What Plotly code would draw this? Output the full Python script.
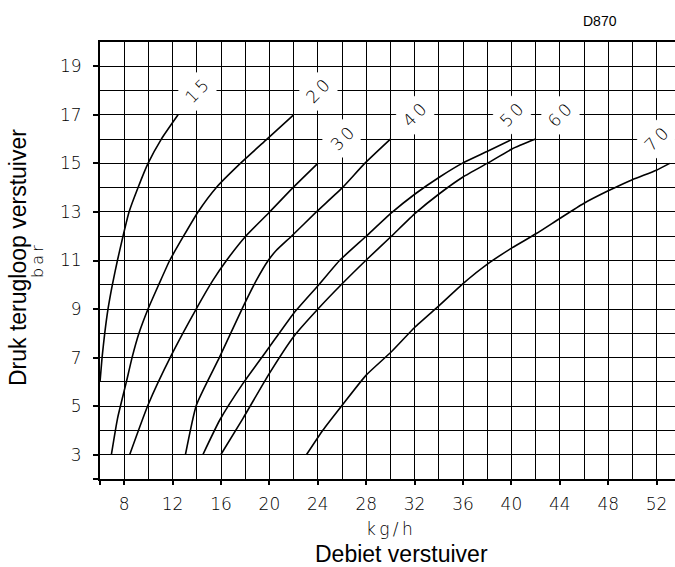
import plotly.graph_objects as go

# ---- data ----
x_ticks = [6, 8, 12, 16, 20, 24, 28, 32, 36, 40, 44, 48, 52]
x_ticktext = ["", "8", "12", "16", "20", "24", "28", "32", "36", "40", "44", "48", "52"]
y_ticks = [2, 3, 5, 7, 9, 11, 13, 15, 17, 19]
y_ticktext = ["", "3", "5", "7", "9", "11", "13", "15", "17", "19"]

c15_x = [6.0, 6.17, 6.39, 6.66, 7.02, 7.44, 7.9, 8.4, 9.14, 9.97, 11.07, 12.45]
c15_y = [6.0, 7.0, 8.0, 9.0, 10.0, 11.0, 12.0, 13.0, 14.0, 15.0, 16.0, 17.0]

c20_x = [6.94, 7.45, 8.18, 8.65, 9.22, 9.97, 10.85, 11.76, 12.9, 14.1, 15.6, 17.6, 19.8, 22.0]
c20_y = [3.0, 4.5, 6.0, 7.0, 8.0, 9.0, 10.0, 11.0, 12.0, 13.0, 14.0, 15.0, 16.0, 17.0]

c30_x = [8.45, 9.97, 11.9, 13.97, 15.34, 16.45, 18.04, 20.02, 21.95, 24.0]
c30_y = [3.0, 5.05, 7.1, 9.02, 10.19, 11.0, 12.0, 13.0, 14.0, 15.0]

c40_x = [13.06, 13.97, 15.89, 17.82, 18.93, 19.9, 20.58, 21.82, 23.88, 26.03, 27.88, 30.0]
c40_y = [3.0, 5.05, 7.03, 9.09, 10.19, 11.0, 11.42, 12.0, 13.0, 14.0, 15.0, 16.0]

c50_x = [14.5, 15.9, 17.82, 20.0, 22.0, 24.05, 25.8, 28.0, 30.08, 32.09, 34.07, 36.0, 38.07, 40.08]
c50_y = [3.0, 4.43, 5.94, 7.44, 8.82, 9.98, 11.0, 12.0, 12.96, 13.76, 14.44, 15.02, 15.51, 16.0]

c60_x = [15.98, 17.82, 20.0, 22.0, 24.05, 26.03, 27.96, 30.08, 32.09, 34.07, 36.0, 38.07, 40.08, 42.0]
c60_y = [3.0, 4.5, 6.35, 7.86, 9.02, 10.05, 11.0, 12.0, 12.96, 13.76, 14.44, 15.02, 15.6, 16.0]

c70_x = [23.06, 24.43, 26.03, 28.0, 30.08, 32.0, 34.07, 36.0, 38.07, 40.08, 42.06, 43.99, 45.97, 48.0, 49.99, 51.98, 53.08]
c70_y = [3.0, 4.02, 5.05, 6.28, 7.24, 8.24, 9.16, 10.05, 10.87, 11.53, 12.11, 12.73, 13.35, 13.87, 14.33, 14.72, 15.0]

curve_names = ["15", "20", "30", "40", "50", "60", "70"]
curves_x = [c15_x, c20_x, c30_x, c40_x, c50_x, c60_x, c70_x]
curves_y = [c15_y, c20_y, c30_y, c40_y, c50_y, c60_y, c70_y]

label_x = [14, 24, 26, 32, 40, 44, 52]
label_y = [18, 18, 16, 17, 17, 17, 16]

THIN = "DejaVu Sans Light, DejaVu Sans, sans-serif"
ARIAL = "Liberation Sans, Arial, sans-serif"

fig = go.Figure()
for name, xs, ys in zip(curve_names, curves_x, curves_y):
    fig.add_trace(go.Scatter(x=xs, y=ys, mode="lines", name=name,
                             line=dict(color="black", width=1.6, shape="spline", smoothing=0.5),
                             showlegend=False, hoverinfo="skip"))

annotations = []
for name, lx, ly in zip(curve_names, label_x, label_y):
    annotations.append(dict(x=lx, y=ly, xref="x", yref="y", text="\u2009".join(name),
                            showarrow=False, textangle=-45, bgcolor="white", borderpad=3,
                            font=dict(family=THIN, size=17, color="black", weight=200),
                            xanchor="center", yanchor="middle"))

annotations += [
    dict(x=-0.1426, y=0.5057, xref="paper", yref="paper", text="Druk terugloop verstuiver",
         textangle=-90, showarrow=False, xanchor="center", yanchor="middle",
         font=dict(family=ARIAL, size=23, color="black")),
    dict(x=-0.1078, y=0.4966, xref="paper", yref="paper", text="b\u2009a\u2009r",
         textangle=-90, showarrow=False, xanchor="center", yanchor="middle",
         font=dict(family=THIN, size=16, color="black", weight=200)),
    dict(x=0.5043, y=-0.1144, xref="paper", yref="paper", text="k\u2009g\u2009/\u2009h",
         showarrow=False, xanchor="center", yanchor="middle",
         font=dict(family=THIN, size=17, color="black", weight=200)),
    dict(x=0.5235, y=-0.1716, xref="paper", yref="paper", text="Debiet verstuiver",
         showarrow=False, xanchor="center", yanchor="middle",
         font=dict(family=ARIAL, size=23, color="black")),
    dict(x=0.8696, y=1.048, xref="paper", yref="paper", text="D870",
         showarrow=False, xanchor="center", yanchor="middle",
         font=dict(family=ARIAL, size=14, color="black")),
]

fig.update_layout(
    width=675, height=567,
    margin=dict(l=100, r=0, t=42, b=88, pad=0),
    paper_bgcolor="white", plot_bgcolor="white",
    annotations=annotations,
    xaxis=dict(range=[6, 53.52], tickmode="array", tickvals=x_ticks, ticktext=x_ticktext,
               ticks="outside", ticklen=4, tickwidth=1.5, tickcolor="black",
               showline=True, linewidth=2, linecolor="black", mirror=True,
               showgrid=True, gridcolor="black", gridwidth=1, zeroline=False,
               minor=dict(tick0=6, dtick=2, showgrid=True, gridcolor="black", gridwidth=1, ticks=""),
               tickfont=dict(family=THIN, size=17, color="black", weight=200),
               ticklabelstandoff=5),
    yaxis=dict(range=[2, 20], tickmode="array", tickvals=y_ticks, ticktext=y_ticktext,
               ticks="outside", ticklen=5, tickwidth=1.5, tickcolor="black",
               showline=True, linewidth=2, linecolor="black", mirror=False,
               showgrid=True, gridcolor="black", gridwidth=1, zeroline=False,
               minor=dict(tick0=2, dtick=1, showgrid=True, gridcolor="black", gridwidth=1, ticks=""),
               tickfont=dict(family=THIN, size=17, color="black", weight=200),
               ticklabelstandoff=8),
)

fig.write_html("out.html", config={"displayModeBar": False},
               post_script="document.body.style.margin='0';document.body.style.overflow='hidden';")
